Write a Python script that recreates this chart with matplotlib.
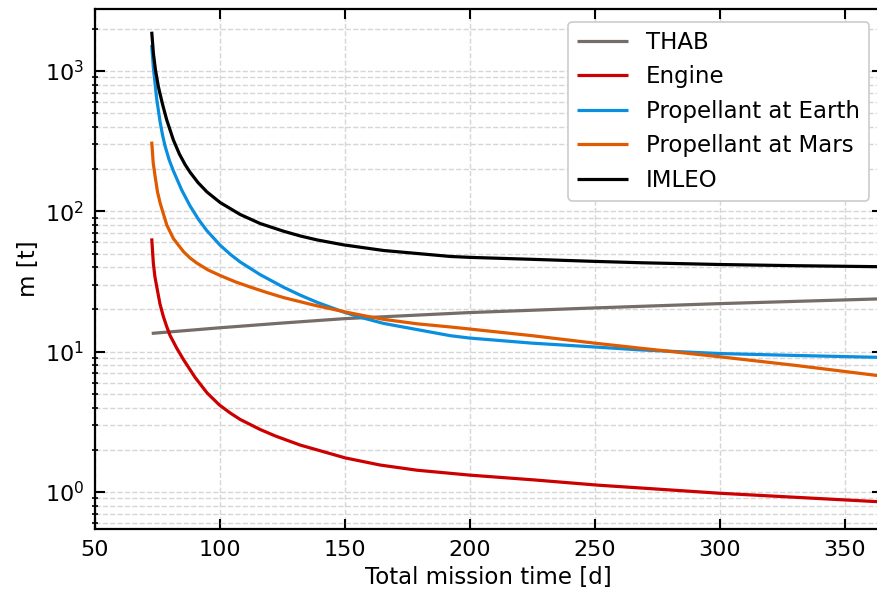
import matplotlib
matplotlib.use("Agg")
import matplotlib.pyplot as plt
from matplotlib.ticker import LogLocator, FixedLocator

# ---- data ----
x_imleo = [72.7, 73.37, 74.2, 75.37, 77.0, 78.71, 81.38, 83.79, 86.06, 88.06, 91.27, 94.75,
           100.08, 108.09, 116.1, 125.44, 132.1, 138.82, 149.48, 165.5, 192.2, 200.0, 225.0,
           250.0, 269.0, 300.0, 330.0, 365.0]
y_imleo = [1906, 1337, 1017, 773, 582, 448, 322, 255.8, 215.4, 189.8, 160.0, 137.8,
           115.6, 95.0, 81.9, 72.2, 66.8, 62.6, 57.7, 52.6, 47.7, 47.0, 45.5,
           44.0, 43.0, 41.8, 41.0, 40.3]

x_earth = [72.7, 73.35, 74.72, 76.04, 77.04, 78.04, 79.65, 81.37, 84.74, 88.06, 91.39, 94.75,
           100.08, 104.09, 108.09, 116.1, 125.44, 132.1, 138.82, 149.48, 156.17, 165.5, 192.2,
           200.0, 225.0, 250.0, 268.0, 300.0, 330.0, 365.0]
y_earth = [1532, 1059, 627, 436, 349, 292, 233.7, 194.2, 141.4, 109.2, 87.8, 72.9,
           57.4, 49.5, 43.6, 35.4, 28.8, 25.3, 22.5, 19.17, 17.6, 15.9, 13.0,
           12.5, 11.5, 10.8, 10.3, 9.7, 9.4, 9.1]

x_mars = [72.7, 73.3, 74.04, 75.0, 76.04, 78.73, 81.37, 85.38, 88.06, 90.75, 95.27, 100.08,
          106.09, 112.1, 118.79, 125.44, 137.46, 149.48, 157.5, 165.5, 178.9, 192.2, 200.0,
          225.0, 250.0, 268.0, 300.0, 330.0, 365.0]
y_mars = [314, 221, 178.6, 138, 115, 79.9, 64.0, 51.7, 46.5, 42.8, 38.2, 34.9,
          31.5, 28.9, 26.4, 24.3, 21.5, 19.3, 18.07, 17.0, 15.8, 15.0, 14.5,
          13.0, 11.5, 10.6, 9.2, 8.0, 6.7]

x_thab = [72.7, 100.0, 125.0, 150.0, 200.0, 250.0, 300.0, 365.0]
y_thab = [13.5, 14.8, 16.0, 17.2, 19.0, 20.5, 22.0, 23.8]

x_engine = [72.7, 73.35, 74.0, 74.72, 76.0, 77.36, 78.7, 80.05, 82.7, 85.38, 90.06, 94.87,
            99.8, 104.09, 108.09, 116.1, 122.12, 132.14, 150.16, 164.1, 178.89, 199.84,
            225.6, 251.0, 300.0, 365.0]
y_engine = [64.2, 42.6, 34.0, 29.0, 21.9, 17.8, 15.1, 13.04, 10.6, 8.80, 6.55, 5.08,
            4.17, 3.66, 3.29, 2.79, 2.51, 2.16, 1.75, 1.557, 1.43, 1.32,
            1.22, 1.12, 0.98, 0.85]

series_labels = ["THAB", "Engine", "Propellant at Earth", "Propellant at Mars", "IMLEO"]
series_colors = ["#766d69", "#cc0000", "#0a8fe0", "#e05a00", "#000000"]

x_ticks = [50, 100, 150, 200, 250, 300, 350]

# ---- figure ----
plt.rcParams["font.family"] = ["DejaVu Sans"]
fig = plt.figure(figsize=(8.77, 5.94), dpi=100)
ax = fig.add_axes([95 / 877, 1 - 529 / 594, (882 - 95) / 877, (529 - 9) / 594])

data = [(x_thab, y_thab), (x_engine, y_engine), (x_earth, y_earth),
        (x_mars, y_mars), (x_imleo, y_imleo)]
for (xs, ys), lab, col in zip(data, series_labels, series_colors):
    ax.plot(xs, ys, color=col, lw=2.3, label=lab, solid_capstyle="butt",
            solid_joinstyle="round")

ax.set_yscale("log")
ax.set_xlim(50, 365)
ax.set_ylim(0.545, 2766)
ax.xaxis.set_major_locator(FixedLocator(x_ticks))
ax.yaxis.set_major_locator(LogLocator(base=10, numticks=10))
ax.yaxis.set_minor_locator(LogLocator(base=10, subs=range(2, 10), numticks=20))

ax.grid(True, which="major", axis="both", color="#d6d6d6", ls="--", lw=1.0)
ax.grid(True, which="minor", axis="y", color="#d6d6d6", ls="--", lw=1.0)
ax.set_axisbelow(True)

ax.tick_params(which="major", direction="in", length=7, width=1.5, top=True, right=True,
               labelsize=16, pad=8)
ax.tick_params(which="minor", axis="y", direction="inout", length=5, width=1.2, right=True)
ax.tick_params(which="minor", axis="x", bottom=False, top=False)
for sp in ax.spines.values():
    sp.set_linewidth(1.6)

ax.set_xlabel("Total mission time [d]", fontsize=16.5, labelpad=4)
ax.set_ylabel("m [t]", fontsize=16.5, labelpad=3)

leg = ax.legend(loc="upper right", fontsize=16.5, frameon=True, fancybox=True,
                edgecolor="#cccccc", framealpha=1.0, borderaxespad=0.55,
                handlelength=2.2, labelspacing=0.5)
leg.get_frame().set_linewidth(1.2)

fig.savefig("out.png", dpi=100)
